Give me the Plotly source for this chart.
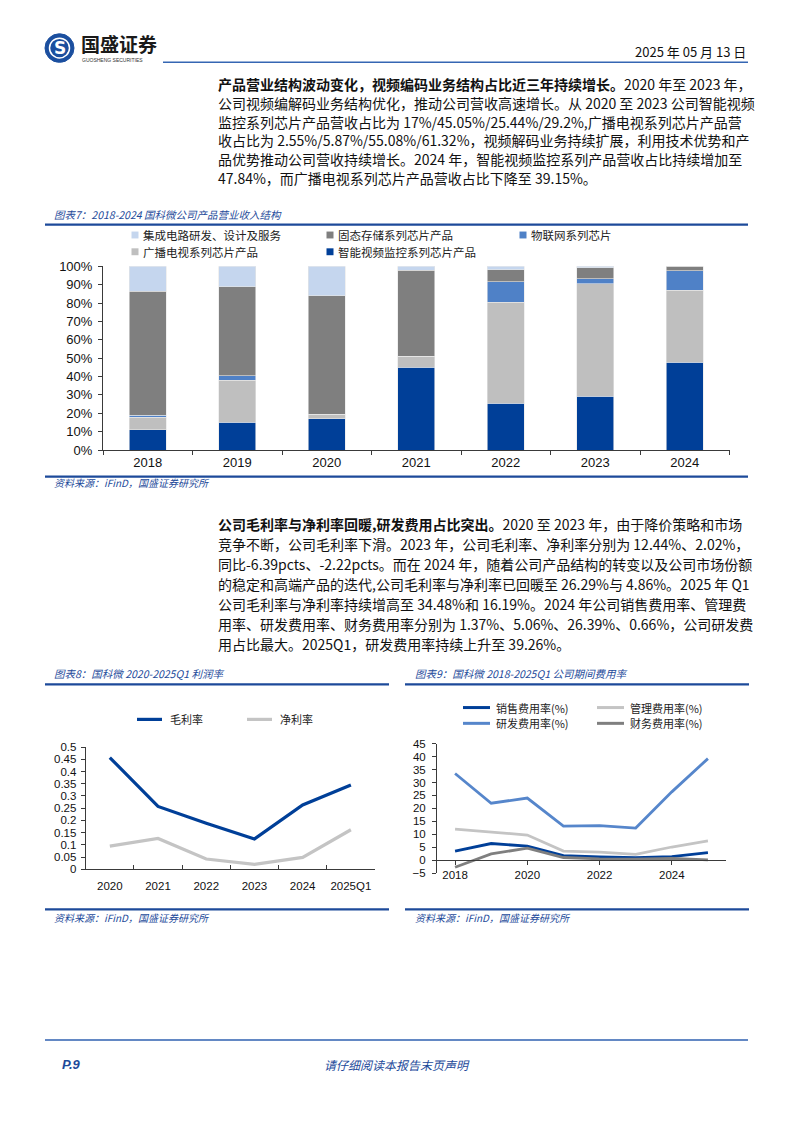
import plotly.graph_objects as go

# The page body has an 8px default margin, so the figure is drawn 8px in from the
# top-left corner; reference pixel positions are converted accordingly.
OFF = 8
W, H = 794 - OFF, 1123 - OFF


def px(x):
    return (x - OFF) / W


def py(y):
    return 1 - (y - OFF) / H


# ---------------- data ----------------
# Chart 7: revenue structure (%)
years1 = ["2018", "2019", "2020", "2021", "2022", "2023", "2024"]
names1 = ["智能视频监控系列芯片产品", "广播电视系列芯片产品", "物联网系列芯片",
          "固态存储系列芯片产品", "集成电路研发、设计及服务"]
smart = [11.0, 15.0, 17.0, 45.05, 25.44, 29.2, 47.84]
broadcast = [6.8, 22.9, 2.55, 5.87, 55.08, 61.32, 39.15]
iot = [1.2, 2.4, 0.0, 0.2, 11.0, 2.7, 10.6]
storage = [67.5, 48.6, 64.3, 46.6, 6.7, 5.9, 2.41]
ic = [13.5, 11.1, 16.15, 2.28, 1.78, 0.88, 0.0]
yticks1 = [0, 10, 20, 30, 40, 50, 60, 70, 80, 90, 100]
ylabels1 = ["0%", "10%", "20%", "30%", "40%", "50%", "60%", "70%", "80%", "90%", "100%"]

# Chart 8: margins
years2 = ["2020", "2021", "2022", "2023", "2024", "2025Q1"]
names2 = ["毛利率", "净利率"]
gross = [0.457, 0.257, 0.1883, 0.1244, 0.2629, 0.3448]
net = [0.095, 0.126, 0.0424, 0.0202, 0.0486, 0.1619]

# Chart 9: expense ratios (%)
years3 = ["2018", "2019", "2020", "2021", "2022", "2023", "2024", "2025Q1"]
xticks3 = ["2018", "2020", "2022", "2024"]
names3 = ["销售费用率(%)", "管理费用率(%)", "研发费用率(%)", "财务费用率(%)"]
sales = [3.5, 6.4, 5.4, 1.7, 1.2, 0.9, 1.37, 2.9]
admin = [12.0, 10.9, 9.7, 3.5, 3.1, 2.2, 5.06, 7.4]
rd = [33.5, 22.0, 24.0, 13.1, 13.3, 12.4, 26.39, 39.26]
fin = [-2.8, 2.4, 4.6, 1.0, 0.5, 0.4, 0.66, 0.1]

# ---------------- styles ----------------
DBLUE = "#003f98"
MBLUE = "#4f81c7"
LGRAY = "#c4c4c4"
DGRAY = "#7f7f7f"
LBLUE = "#c5d6ee"
TBLUE = "#1d4a9a"
CJK = "Noto Sans CJK SC"
NUM = "Liberation Sans Narrow, Liberation Sans, Arial"
NUM2 = "Liberation Sans, Arial"

fig = go.Figure()

# ---- Chart 7 bars ----
series1 = [smart, broadcast, iot, storage, ic]
colors1 = [DBLUE, "#bfbfbf", MBLUE, DGRAY, LBLUE]
for name, vals, col in zip(names1, series1, colors1):
    fig.add_trace(go.Bar(x=years1, y=vals, name=name, marker_color=col,
                         marker_line=dict(color="#e6e6e6", width=0.6),
                         xaxis="x", yaxis="y", showlegend=False))

# ---- Chart 8 lines ----
fig.add_trace(go.Scatter(x=years2, y=gross, name=names2[0], mode="lines",
                         line=dict(color=DBLUE, width=3.2), xaxis="x2", yaxis="y2",
                         showlegend=False))
fig.add_trace(go.Scatter(x=years2, y=net, name=names2[1], mode="lines",
                         line=dict(color=LGRAY, width=3.2), xaxis="x2", yaxis="y2",
                         showlegend=False))

# ---- Chart 9 lines ----
series3 = [sales, admin, rd, fin]
colors3 = [DBLUE, LGRAY, "#5686cb", DGRAY]
for name, vals, col in zip(names3, series3, colors3):
    fig.add_trace(go.Scatter(x=years3, y=vals, name=name, mode="lines",
                             line=dict(color=col, width=2.8), xaxis="x3", yaxis="y3",
                             showlegend=False))

axis_common = dict(showgrid=False, zeroline=False, showline=True, linecolor="#3a3a3a",
                   linewidth=1, ticks="outside", ticklen=4, tickcolor="#3a3a3a")

c9_bot, c9_top = py(877.7), py(746.7)
zero_pos = c9_bot + (0 - (-5)) / 50 * (c9_top - c9_bot)

fig.update_layout(
    width=W, height=H, margin=dict(l=0, r=0, t=0, b=0),
    paper_bgcolor="white", plot_bgcolor="white",
    barmode="stack", bargap=0.587,
    font=dict(family=CJK, color="#111111"),
    xaxis=dict(domain=[px(103), px(729.5)], anchor="y", type="category",
               tickson="boundaries", tickangle=0,
               tickfont=dict(family=NUM, size=13, color="#111"), **axis_common),
    yaxis=dict(domain=[py(449), py(262.7)], anchor="x", range=[0, 100],
               tickvals=yticks1, ticktext=ylabels1, ticklabelstandoff=3,
               tickfont=dict(family=NUM, size=13, color="#111"), **axis_common),
    xaxis2=dict(domain=[px(85.7), px(375)], anchor="y2", type="category",
                range=[-0.5, 5.5], tickson="boundaries", ticklabelstandoff=6, tickangle=0,
                tickfont=dict(family=NUM2, size=11.5, color="#111"),
                **{**axis_common, "ticks": "inside"}),
    yaxis2=dict(domain=[py(874), py(750)], anchor="x2", range=[0, 0.5], dtick=0.05,
                tick0=0, ticklabelstandoff=2,
                tickfont=dict(family=NUM2, size=11.5, color="#111"), **axis_common),
    xaxis3=dict(domain=[px(437), px(726)], anchor="free", position=zero_pos,
                type="category", range=[-0.5, 7.5], tickvals=xticks3, tickangle=0,
                tickfont=dict(family=NUM2, size=11.5, color="#111"), **axis_common),
    yaxis3=dict(domain=[c9_bot, c9_top], anchor="x3", range=[-5, 45], dtick=5,
                ticklabelstandoff=4,
                tickfont=dict(family=NUM2, size=11.5, color="#111"), **axis_common),
)

shapes = []
ann = []


def text(x, y, s, size=14, color="#111111", family=CJK, anchor="left", vanchor="middle"):
    ann.append(dict(x=px(x), y=py(y), xref="paper", yref="paper", text=s,
                    showarrow=False, xanchor=anchor, yanchor=vanchor,
                    font=dict(size=size, color=color, family=family)))


def hline(x0, x1, y, color=TBLUE, width=2):
    shapes.append(dict(type="line", xref="paper", yref="paper", x0=px(x0), x1=px(x1),
                       y0=py(y), y1=py(y), line=dict(color=color, width=width)))


# ---- header ----
shapes.append(dict(type="circle", xref="paper", yref="paper", x0=px(45), x1=px(74),
                   y0=py(56), y1=py(27), fillcolor="#1b4f9f", line=dict(color="#1b4f9f", width=1)))
shapes.append(dict(type="circle", xref="paper", yref="paper", x0=px(49.5), x1=px(69.5),
                   y0=py(51.5), y1=py(31.5), fillcolor="rgba(0,0,0,0)",
                   line=dict(color="white", width=1.5)))
text(59.5, 41.5, "<b>S</b>", size=17, color="white", family="DejaVu Sans", anchor="center")
text(79, 37, "<b>国盛证券</b>", size=19, color="#1a1a1a")
text(80, 53.5, "GUOSHENG SECURITIES", size=5, color="#333", family="Liberation Sans")
hline(163, 748, 56, color="#3566b3", width=1.5)
text(748, 45, "2025 年 05 月 13 日", size=13, color="#111", anchor="right")

# ---- paragraph 1 ----
para1 = [
    "<b>产品营业结构波动变化，视频编码业务结构占比近三年持续增长。</b>2020 年至 2023 年，",
    "公司视频编解码业务结构优化，推动公司营收高速增长。从 2020 至 2023 公司智能视频",
    "监控系列芯片产品营收占比为 17%/45.05%/25.44%/29.2%,广播电视系列芯片产品营",
    "收占比为 2.55%/5.87%/55.08%/61.32%，视频解码业务持续扩展，利用技术优势和产",
    "品优势推动公司营收持续增长。2024 年，智能视频监控系列产品营收占比持续增加至",
    "47.84%，而广播电视系列芯片产品营收占比下降至 39.15%。",
]
for i, line in enumerate(para1):
    text(216, 78 + i * 19.0, line, size=14)

# ---- chart 7 title / legend / source ----
text(52, 210, "<i>图表7：2018-2024 国科微公司产品营业收入结构</i>", size=10.5, color=TBLUE)
hline(45, 748, 220.5, width=2.2)
leg1 = [(names1[4], LBLUE, 135, 231), (names1[3], DGRAY, 330, 231), (names1[2], MBLUE, 523, 231),
        (names1[1], "#bfbfbf", 135, 248), (names1[0], DBLUE, 330, 248)]
for name, col, lx, ly in leg1:
    shapes.append(dict(type="rect", xref="paper", yref="paper", x0=px(lx - 3.5), x1=px(lx + 3.5),
                       y0=py(ly + 3.5), y1=py(ly - 3.5), fillcolor=col, line=dict(width=0)))
    text(lx + 6, ly, name, size=11.5, color="#222")
hline(45, 748, 476, width=2.2)
text(52, 482, "<i>资料来源：iFinD，国盛证券研究所</i>", size=10, color=TBLUE)

# ---- paragraph 2 ----
para2 = [
    "<b>公司毛利率与净利率回暖,研发费用占比突出。</b>2020 至 2023 年，由于降价策略和市场",
    "竞争不断，公司毛利率下滑。2023 年，公司毛利率、净利率分别为 12.44%、2.02%，",
    "同比-6.39pcts、-2.22pcts。而在 2024 年，随着公司产品结构的转变以及公司市场份额",
    "的稳定和高端产品的迭代,公司毛利率与净利率已回暖至 26.29%与 4.86%。2025 年 Q1",
    "公司毛利率与净利率持续增高至 34.48%和 16.19%。2024 年公司销售费用率、管理费",
    "用率、研发费用率、财务费用率分别为 1.37%、5.06%、26.39%、0.66%，公司研发费",
    "用占比最大。2025Q1，研发费用率持续上升至 39.26%。",
]
for i, line in enumerate(para2):
    text(216, 524 + i * 20.3, line, size=14)

# ---- chart 8 title / legend / source ----
text(52, 675, "<i>图表8：国科微 2020-2025Q1 利润率</i>", size=10.5, color=TBLUE)
hline(45, 389, 686.5, width=2.2)
leg2 = [(names2[0], DBLUE, 137, 722), (names2[1], LGRAY, 247, 722)]
for name, col, lx, ly in leg2:
    shapes.append(dict(type="line", xref="paper", yref="paper", x0=px(lx), x1=px(lx + 25),
                       y0=py(ly), y1=py(ly), line=dict(color=col, width=3.2)))
    text(lx + 31, ly, name, size=11, color="#222")
hline(45, 389, 914.5, width=2.2)
text(52, 923, "<i>资料来源：iFinD，国盛证券研究所</i>", size=10, color=TBLUE)

# ---- chart 9 title / legend / source ----
text(413, 675, "<i>图表9：国科微 2018-2025Q1 公司期间费用率</i>", size=10.5, color=TBLUE)
hline(405, 749, 686.5, width=2.2)
leg3 = [(names3[0], DBLUE, 463, 710), (names3[1], LGRAY, 597, 710),
        (names3[2], "#5686cb", 463, 726), (names3[3], DGRAY, 597, 726)]
for name, col, lx, ly in leg3:
    shapes.append(dict(type="line", xref="paper", yref="paper", x0=px(lx), x1=px(lx + 27),
                       y0=py(ly), y1=py(ly), line=dict(color=col, width=3)))
    text(lx + 31, ly, name, size=11, color="#222")
hline(405, 749, 914.5, width=2.2)
text(413, 923, "<i>资料来源：iFinD，国盛证券研究所</i>", size=10, color=TBLUE)

# ---- footer ----
hline(45, 748, 1047, color="#2f60b0", width=1.5)
text(60, 1072, "<b><i>P.9</i></b>", size=13, color=TBLUE, family="Liberation Sans")
text(397, 1072, "<i>请仔细阅读本报告末页声明</i>", size=12, color=TBLUE, anchor="center")

fig.update_layout(shapes=shapes, annotations=ann)
fig.write_html("out.html")
